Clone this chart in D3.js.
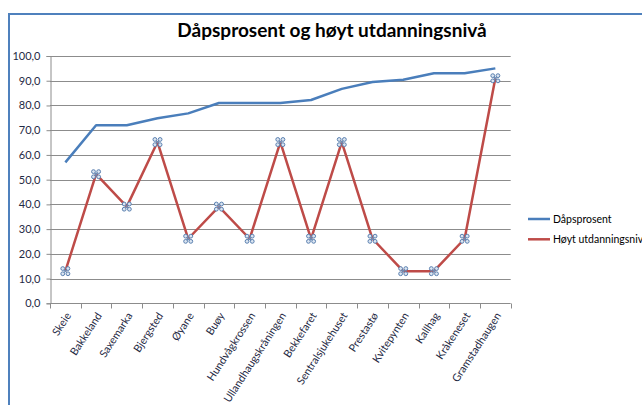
<!DOCTYPE html>
<html>
<head>
<meta charset="utf-8">
<script src="https://cdn.jsdelivr.net/npm/d3@7"></script>
<style>
  body { margin: 0; background: #fff; }
  text { font-family: Lato, "Liberation Sans", sans-serif; }
</style>
</head>
<body>
<div id="chart"></div>
<script>
// data
const places = ['Skeie', 'Bakkeland', 'Saxemarka', 'Bjergsted', 'Øyane', 'Buøy', 'Hundvågkrossen',
  'Ullandhaugskråningen', 'Bekkefaret', 'Sentralsjukehuset', 'Prestastø', 'Kvitepynten',
  'Kallhag', 'Kråkeneset', 'Gramstadhaugen'];
const daap = [57, 72, 72, 74.8, 76.8, 81, 81, 81, 82.2, 86.7, 89.5, 90.4, 93, 93, 95];
const utdanning = [13, 52.2, 39.1, 65.2, 26.1, 39.1, 26.1, 65.2, 26.1, 65.2, 26.1, 13, 13, 26.1, 91];
const yTicks = [0, 10, 20, 30, 40, 50, 60, 70, 80, 90, 100];
const seriesNames = ['Dåpsprosent', 'Høyt utdanningsnivå'];

const width = 642;
const height = 405;
const plot = {left: 50, right: 510.7, top: 56, bottom: 303.3};

const svg = d3.select('#chart')
  .append('svg')
  .attr('width', width)
  .attr('height', height);

// chart frame (runs past the right and bottom edge)
svg.append('rect')
  .attr('x', 9).attr('y', 14)
  .attr('width', 700).attr('height', 500)
  .attr('fill', '#fff')
  .attr('stroke', '#4f81bd')
  .attr('stroke-width', 2);

svg.append('text')
  .attr('x', 332).attr('y', 37)
  .attr('text-anchor', 'middle')
  .attr('font-size', 19)
  .attr('font-weight', 'bold')
  .attr('fill', '#000')
  .text('Dåpsprosent og høyt utdanningsnivå');

const x = d3.scaleBand()
  .domain(places)
  .range([plot.left, plot.right]);

const y = d3.scaleLinear()
  .domain([0, 100])
  .range([plot.bottom, plot.top]);

// gridlines
svg.append('g')
  .selectAll('line')
  .data(yTicks.filter(d => d > 0))
  .join('line')
  .attr('x1', plot.left).attr('x2', plot.right)
  .attr('y1', d => Math.round(y(d)) + 0.5).attr('y2', d => Math.round(y(d)) + 0.5)
  .attr('stroke', '#8c8c8c');

// y axis
const yAxis = svg.append('g')
  .attr('transform', `translate(${plot.left + 0.5},0)`)
  .call(d3.axisLeft(y).tickValues(yTicks).tickSize(4).tickPadding(6)
    .tickFormat(d => d3.format('.1f')(d).replace('.', ',')));
yAxis.selectAll('.domain, line').attr('stroke', '#8c8c8c');
yAxis.selectAll('text')
  .attr('font-size', 11)
  .attr('fill', '#1f2a44')
  .style('font-family', 'Lato, sans-serif');

// x axis with ticks between categories
const xAxisG = svg.append('g')
  .attr('transform', `translate(0,${Math.round(plot.bottom) + 0.5})`);
xAxisG.append('line')
  .attr('x1', plot.left).attr('x2', plot.right)
  .attr('stroke', '#8c8c8c');
xAxisG.selectAll('line.tick')
  .data(places.concat(['end']))
  .join('line')
  .attr('class', 'tick')
  .attr('x1', (d, i) => Math.round(plot.left + i * x.step()) + 0.5)
  .attr('x2', (d, i) => Math.round(plot.left + i * x.step()) + 0.5)
  .attr('y1', 0).attr('y2', 5)
  .attr('stroke', '#8c8c8c');
xAxisG.selectAll('text')
  .data(places)
  .join('text')
  .attr('transform', d => `translate(${x(d) + x.bandwidth() / 2 + 3},10) rotate(-57)`)
  .attr('text-anchor', 'end')
  .attr('dy', '0.35em')
  .attr('font-size', 10.8)
  .attr('fill', '#1f2a44')
  .text(d => d);

const line = d3.line()
  .x((d, i) => x(places[i]) + x.bandwidth() / 2)
  .y(d => y(d));

svg.append('path')
  .datum(daap)
  .attr('d', line)
  .attr('fill', 'none')
  .attr('stroke', '#4a7ebb')
  .attr('stroke-width', 2.5)
  .attr('stroke-linejoin', 'round');

svg.append('path')
  .datum(utdanning)
  .attr('d', line)
  .attr('fill', 'none')
  .attr('stroke', '#be4b48')
  .attr('stroke-width', 2.5)
  .attr('stroke-linejoin', 'round');

// clover-like markers on the red series
const marks = svg.append('g')
  .selectAll('g')
  .data(utdanning)
  .join('g')
  .attr('transform', (d, i) => `translate(${x(places[i]) + x.bandwidth() / 2},${y(d)})`);
marks.append('path')
  .attr('d', 'M-2.5,-2.5L2.5,2.5M-2.5,2.5L2.5,-2.5')
  .attr('stroke', '#6d8fb8')
  .attr('stroke-width', 1.2);
[[-2.6, -2.6], [2.6, -2.6], [-2.6, 2.6], [2.6, 2.6]].forEach(p => {
  marks.append('circle')
    .attr('cx', p[0]).attr('cy', p[1]).attr('r', 1.9)
    .attr('fill', '#dbe5f1')
    .attr('stroke', '#5a80b0')
    .attr('stroke-width', 1);
});

// legend
const legend = svg.append('g')
  .selectAll('g')
  .data(seriesNames)
  .join('g')
  .attr('transform', (d, i) => `translate(528,${219 + i * 20.3})`);
legend.append('line')
  .attr('x1', 0).attr('x2', 22)
  .attr('stroke', (d, i) => i === 0 ? '#4a7ebb' : '#be4b48')
  .attr('stroke-width', 2.5);
legend.append('text')
  .attr('x', 25)
  .attr('dy', '0.35em')
  .attr('font-size', 10.5)
  .attr('fill', '#000')
  .text(d => d);
</script>
</body>
</html>
